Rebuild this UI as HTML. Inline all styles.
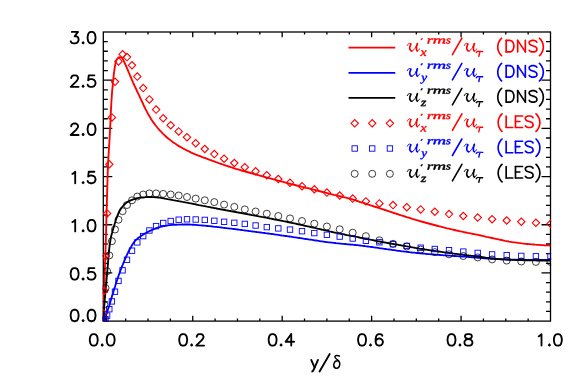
<!DOCTYPE html><html><head><meta charset="utf-8"><style>html,body{margin:0;padding:0;background:#fff}svg{display:block}</style></head><body><svg width="581" height="387" viewBox="0 0 581 387"><rect width="100%" height="100%" fill="#fff"/><g stroke="#000" stroke-width="1.3" fill="none" stroke-linecap="butt"><rect x="103.3" y="32.0" width="447.2" height="289.1"/><path d="M125.66,321.10v-2.5M125.66,32.00v2.5M148.02,321.10v-2.5M148.02,32.00v2.5M170.38,321.10v-2.5M170.38,32.00v2.5M192.74,321.10v-5.3M192.74,32.00v5.3M215.10,321.10v-2.5M215.10,32.00v2.5M237.46,321.10v-2.5M237.46,32.00v2.5M259.82,321.10v-2.5M259.82,32.00v2.5M282.18,321.10v-5.3M282.18,32.00v5.3M304.54,321.10v-2.5M304.54,32.00v2.5M326.90,321.10v-2.5M326.90,32.00v2.5M349.26,321.10v-2.5M349.26,32.00v2.5M371.62,321.10v-5.3M371.62,32.00v5.3M393.98,321.10v-2.5M393.98,32.00v2.5M416.34,321.10v-2.5M416.34,32.00v2.5M438.70,321.10v-2.5M438.70,32.00v2.5M461.06,321.10v-5.3M461.06,32.00v5.3M483.42,321.10v-2.5M483.42,32.00v2.5M505.78,321.10v-2.5M505.78,32.00v2.5M528.14,321.10v-2.5M528.14,32.00v2.5M103.30,311.46h4.5M550.50,311.46h-4.5M103.30,301.83h4.5M550.50,301.83h-4.5M103.30,292.19h4.5M550.50,292.19h-4.5M103.30,282.55h4.5M550.50,282.55h-4.5M103.30,272.92h9.0M550.50,272.92h-9.0M103.30,263.28h4.5M550.50,263.28h-4.5M103.30,253.64h4.5M550.50,253.64h-4.5M103.30,244.01h4.5M550.50,244.01h-4.5M103.30,234.37h4.5M550.50,234.37h-4.5M103.30,224.73h9.0M550.50,224.73h-9.0M103.30,215.10h4.5M550.50,215.10h-4.5M103.30,205.46h4.5M550.50,205.46h-4.5M103.30,195.82h4.5M550.50,195.82h-4.5M103.30,186.19h4.5M550.50,186.19h-4.5M103.30,176.55h9.0M550.50,176.55h-9.0M103.30,166.91h4.5M550.50,166.91h-4.5M103.30,157.28h4.5M550.50,157.28h-4.5M103.30,147.64h4.5M550.50,147.64h-4.5M103.30,138.00h4.5M550.50,138.00h-4.5M103.30,128.37h9.0M550.50,128.37h-9.0M103.30,118.73h4.5M550.50,118.73h-4.5M103.30,109.09h4.5M550.50,109.09h-4.5M103.30,99.46h4.5M550.50,99.46h-4.5M103.30,89.82h4.5M550.50,89.82h-4.5M103.30,80.18h9.0M550.50,80.18h-9.0M103.30,70.55h4.5M550.50,70.55h-4.5M103.30,60.91h4.5M550.50,60.91h-4.5M103.30,51.27h4.5M550.50,51.27h-4.5M103.30,41.64h4.5M550.50,41.64h-4.5"/></g><defs><clipPath id="c"><rect x="102.6" y="31.3" width="448.6" height="290.5"/></clipPath></defs><g clip-path="url(#c)"><polyline points="103.3,321.1 103.4,319.2 103.4,317.3 103.5,315.4 103.5,313.5 103.6,311.6 103.6,309.7 103.7,307.8 103.8,305.8 103.8,303.9 103.9,302.0 103.9,300.1 104.0,298.2 104.0,296.3 104.1,294.4 104.2,292.5 104.2,290.6 104.3,288.7 104.3,286.8 104.4,284.9 104.5,283.0 104.5,281.1 104.6,279.1 104.6,277.2 104.7,275.3 104.7,273.4 104.8,271.5 104.9,269.6 104.9,267.7 105.0,265.8 105.1,263.9 105.1,262.0 105.2,260.1 105.3,258.2 105.3,256.3 105.4,254.4 105.4,252.5 105.5,250.5 105.6,248.6 105.6,246.7 105.7,244.8 105.8,242.9 105.8,241.0 105.9,239.1 105.9,237.2 106.0,235.3 106.0,233.4 106.1,231.5 106.1,229.6 106.2,227.7 106.2,225.8 106.3,223.8 106.3,221.9 106.4,220.0 106.4,218.1 106.5,216.2 106.5,214.3 106.6,212.4 106.6,210.5 106.7,208.6 106.7,206.7 106.8,204.8 106.9,202.9 106.9,201.0 107.0,199.1 107.0,197.1 107.1,195.2 107.1,193.3 107.2,191.4 107.2,189.5 107.3,187.6 107.3,185.7 107.4,183.8 107.4,181.9 107.5,180.0 107.5,178.1 107.6,176.2 107.7,174.3 107.7,172.4 107.8,170.4 107.9,168.5 108.0,166.6 108.0,164.7 108.1,162.8 108.2,160.9 108.3,159.0 108.4,157.1 108.6,155.2 108.7,153.3 108.8,151.4 108.9,149.5 109.0,147.6 109.1,145.7 109.3,143.8 109.4,141.9 109.5,140.0 109.6,138.1 109.7,136.2 109.8,134.3 109.9,132.4 110.0,130.4 110.1,128.5 110.2,126.6 110.3,124.7 110.4,122.8 110.5,120.9 110.6,119.0 110.7,117.1 110.7,115.2 110.8,113.3 110.9,111.4 111.0,109.5 111.1,107.6 111.2,105.7 111.3,103.8 111.4,101.9 111.5,100.0 111.7,98.1 111.8,96.2 111.9,94.2 112.1,92.3 112.2,90.4 112.4,88.5 112.6,86.6 112.8,84.7 112.9,82.8 113.1,80.9 113.3,79.0 113.5,77.1 113.7,75.2 113.9,73.3 114.2,71.4 114.4,69.5 114.7,67.7 115.0,65.8 115.4,63.9 115.8,62.0 116.4,60.2 117.4,58.6 118.9,57.2 120.7,57.4 122.2,58.2 123.2,59.8 124.1,61.7 124.9,63.5 125.7,65.2 126.5,67.0 127.2,68.7 128.0,70.5 128.7,72.3 129.5,74.0 130.2,75.8 131.0,77.5 131.7,79.3 132.5,81.0 133.2,82.8 134.0,84.5 134.8,86.3 135.6,88.0 136.4,89.7 137.2,91.5 138.0,93.2 138.9,94.9 139.7,96.6 140.5,98.3 141.3,100.1 142.1,101.8 142.9,103.5 143.7,105.3 144.5,107.0 145.3,108.7 146.2,110.4 147.1,112.1 148.0,113.8 149.0,115.4 149.9,117.1 150.9,118.7 151.9,120.3 153.0,121.9 154.1,123.4 155.3,125.0 156.5,126.5 157.7,128.0 158.9,129.4 160.2,130.8 161.5,132.2 162.8,133.6 164.2,134.9 165.6,136.2 167.0,137.5 168.5,138.7 170.0,139.9 171.5,141.1 173.0,142.2 174.6,143.3 176.2,144.3 177.8,145.4 179.4,146.4 181.1,147.3 182.7,148.3 184.4,149.2 186.1,150.0 187.8,150.9 189.5,151.7 191.3,152.6 193.0,153.3 194.7,154.1 196.5,154.8 198.3,155.6 200.1,156.2 201.8,156.9 203.6,157.6 205.4,158.2 207.2,158.9 209.0,159.6 210.8,160.2 212.6,160.9 214.4,161.5 216.2,162.2 218.0,162.8 219.8,163.5 221.6,164.1 223.4,164.7 225.2,165.3 227.0,165.9 228.8,166.5 230.6,167.1 232.4,167.7 234.2,168.3 236.1,168.9 237.9,169.4 239.7,169.9 241.6,170.5 243.4,171.0 245.2,171.5 247.1,172.0 248.9,172.5 250.8,173.0 252.6,173.5 254.4,174.0 256.3,174.6 258.1,175.1 259.9,175.6 261.8,176.1 263.6,176.6 265.4,177.2 267.3,177.7 269.1,178.2 271.0,178.7 272.8,179.2 274.6,179.7 276.5,180.2 278.3,180.7 280.2,181.2 282.0,181.6 283.9,182.1 285.7,182.6 287.6,183.1 289.4,183.6 291.2,184.1 293.1,184.5 294.9,185.0 296.8,185.5 298.6,185.9 300.5,186.4 302.3,186.9 304.2,187.3 306.0,187.8 307.9,188.2 309.8,188.7 311.6,189.2 313.5,189.6 315.3,190.1 317.2,190.6 319.0,191.0 320.9,191.5 322.7,192.0 324.6,192.4 326.4,192.9 328.3,193.4 330.1,193.8 332.0,194.3 333.8,194.8 335.7,195.2 337.5,195.7 339.4,196.1 341.2,196.5 343.1,197.0 344.9,197.4 346.8,197.9 348.6,198.4 350.5,198.9 352.3,199.4 354.1,199.9 356.0,200.5 357.8,201.1 359.6,201.8 361.4,202.4 363.2,202.9 365.0,203.5 366.8,204.1 368.6,204.7 370.5,205.3 372.3,205.9 374.1,206.5 375.9,207.0 377.7,207.6 379.5,208.2 381.3,208.8 383.2,209.4 385.0,210.0 386.8,210.6 388.6,211.2 390.4,211.8 392.2,212.4 394.0,213.0 395.8,213.6 397.7,214.2 399.5,214.8 401.3,215.4 403.1,215.9 404.9,216.5 406.7,217.1 408.6,217.6 410.4,218.2 412.2,218.8 414.0,219.3 415.9,219.9 417.7,220.4 419.5,221.0 421.4,221.5 423.2,222.0 425.0,222.5 426.9,223.0 428.7,223.5 430.5,224.0 432.4,224.5 434.2,225.0 436.1,225.5 437.9,226.0 439.8,226.4 441.6,226.9 443.5,227.4 445.3,227.8 447.2,228.3 449.0,228.7 450.9,229.2 452.8,229.6 454.6,230.0 456.5,230.5 458.3,230.9 460.2,231.3 462.1,231.7 463.9,232.1 465.8,232.5 467.7,232.9 469.5,233.2 471.4,233.6 473.3,234.0 475.2,234.3 477.0,234.7 478.9,235.1 480.8,235.5 482.6,235.9 484.5,236.3 486.3,236.8 488.2,237.2 490.1,237.6 491.9,238.0 493.8,238.4 495.7,238.8 497.5,239.2 499.4,239.6 501.3,240.0 503.1,240.4 505.0,240.8 506.9,241.1 508.8,241.5 510.6,241.8 512.5,242.1 514.4,242.3 516.3,242.6 518.2,242.9 520.1,243.1 522.0,243.4 523.9,243.6 525.8,243.8 527.7,244.0 529.6,244.2 531.5,244.4 533.4,244.5 535.3,244.7 537.2,244.8 539.1,244.9 541.0,245.1 542.9,245.2 544.8,245.3 546.7,245.4 548.6,245.4 550.5,245.5" fill="none" stroke="#ff0000" stroke-width="1.85" stroke-linejoin="round"/><polyline points="103.3,321.1 103.9,320.0 104.4,318.8 104.9,317.6 105.4,316.4 105.8,315.3 106.3,314.1 106.8,312.9 107.2,311.7 107.6,310.5 108.0,309.3 108.4,308.1 108.8,306.9 109.2,305.7 109.6,304.4 109.9,303.2 110.3,302.0 110.7,300.8 111.0,299.5 111.4,298.3 111.8,297.1 112.1,295.9 112.5,294.7 112.9,293.5 113.3,292.2 113.6,291.0 114.0,289.8 114.4,288.6 114.8,287.4 115.2,286.2 115.5,284.9 115.9,283.7 116.3,282.5 116.7,281.3 117.1,280.1 117.5,278.9 117.9,277.7 118.3,276.5 118.7,275.3 119.1,274.1 119.6,272.9 120.0,271.7 120.4,270.5 120.9,269.3 121.4,268.1 121.8,266.9 122.3,265.7 122.8,264.6 123.3,263.4 123.8,262.2 124.3,261.0 124.8,259.9 125.3,258.7 125.8,257.5 126.3,256.3 126.8,255.2 127.3,254.0 127.9,252.9 128.4,251.7 129.0,250.6 129.6,249.5 130.2,248.4 130.9,247.2 131.5,246.1 132.2,245.0 132.9,243.9 133.6,242.8 134.3,241.8 135.1,240.9 136.0,239.9 136.9,239.1 137.9,238.3 138.9,237.5 140.0,236.8 141.0,236.1 142.1,235.3 143.1,234.7 144.2,234.0 145.3,233.3 146.4,232.7 147.5,232.1 148.7,231.5 149.8,230.9 151.0,230.4 152.1,229.9 153.3,229.3 154.5,228.9 155.7,228.4 156.9,228.0 158.1,227.6 159.3,227.2 160.5,226.9 161.8,226.5 163.0,226.2 164.3,226.0 165.5,225.8 166.8,225.6 168.0,225.4 169.3,225.2 170.5,225.1 171.8,224.9 173.1,224.8 174.4,224.7 175.6,224.7 176.9,224.7 178.2,224.6 179.4,224.6 180.7,224.6 182.0,224.5 183.3,224.5 184.5,224.5 185.8,224.5 187.1,224.5 188.4,224.5 189.6,224.5 190.9,224.6 192.2,224.7 193.4,224.7 194.7,224.8 196.0,224.9 197.3,225.1 198.5,225.2 199.8,225.3 201.1,225.4 202.3,225.5 203.6,225.6 204.9,225.7 206.1,225.9 207.4,226.0 208.7,226.1 209.9,226.2 211.2,226.4 212.5,226.5 213.7,226.7 215.0,226.8 216.3,226.9 217.5,227.1 218.8,227.2 220.1,227.4 221.3,227.5 222.6,227.7 223.9,227.8 225.1,228.0 226.4,228.1 227.7,228.3 228.9,228.4 230.2,228.6 231.4,228.7 232.7,228.9 234.0,229.0 235.2,229.2 236.5,229.4 237.8,229.5 239.0,229.7 240.3,229.8 241.6,230.0 242.8,230.2 244.1,230.3 245.3,230.5 246.6,230.6 247.9,230.8 249.1,231.0 250.4,231.1 251.7,231.3 252.9,231.5 254.2,231.6 255.4,231.8 256.7,232.0 258.0,232.1 259.2,232.3 260.5,232.5 261.8,232.7 263.0,232.8 264.3,233.0 265.5,233.2 266.8,233.3 268.1,233.5 269.3,233.7 270.6,233.9 271.8,234.0 273.1,234.2 274.4,234.4 275.6,234.6 276.9,234.7 278.2,234.9 279.4,235.1 280.7,235.3 281.9,235.5 283.2,235.6 284.5,235.8 285.7,236.0 287.0,236.2 288.2,236.4 289.5,236.5 290.8,236.7 292.0,236.9 293.3,237.1 294.5,237.3 295.8,237.4 297.1,237.6 298.3,237.8 299.6,238.0 300.8,238.2 302.1,238.4 303.4,238.6 304.6,238.8 305.9,239.0 307.1,239.2 308.4,239.4 309.7,239.6 310.9,239.7 312.2,239.9 313.4,240.1 314.7,240.3 316.0,240.5 317.2,240.7 318.5,240.9 319.7,241.1 321.0,241.3 322.3,241.4 323.5,241.6 324.8,241.8 326.0,242.0 327.3,242.1 328.6,242.3 329.8,242.4 331.1,242.6 332.4,242.7 333.6,242.9 334.9,243.0 336.1,243.2 337.4,243.3 338.7,243.4 339.9,243.6 341.2,243.7 342.5,243.8 343.7,243.9 345.0,244.0 346.3,244.1 347.6,244.3 348.8,244.4 350.1,244.5 351.4,244.6 352.6,244.7 353.9,244.9 355.2,245.0 356.4,245.1 357.7,245.2 359.0,245.4 360.2,245.5 361.5,245.7 362.8,245.8 364.0,246.0 365.3,246.2 366.5,246.3 367.8,246.5 369.1,246.7 370.3,246.8 371.6,247.0 372.9,247.2 374.1,247.4 375.4,247.6 376.6,247.7 377.9,247.9 379.2,248.1 380.4,248.3 381.7,248.4 382.9,248.6 384.2,248.8 385.5,249.0 386.7,249.2 388.0,249.3 389.2,249.5 390.5,249.7 391.8,249.9 393.0,250.1 394.3,250.2 395.5,250.4 396.8,250.6 398.1,250.8 399.3,250.9 400.6,251.1 401.9,251.3 403.1,251.4 404.4,251.6 405.6,251.7 406.9,251.9 408.2,252.0 409.4,252.2 410.7,252.3 412.0,252.5 413.2,252.6 414.5,252.7 415.8,252.9 417.0,253.0 418.3,253.1 419.6,253.3 420.8,253.4 422.1,253.5 423.4,253.6 424.6,253.7 425.9,253.8 427.2,254.0 428.4,254.1 429.7,254.2 431.0,254.3 432.3,254.4 433.5,254.5 434.8,254.6 436.1,254.7 437.3,254.8 438.6,254.9 439.9,255.0 441.1,255.1 442.4,255.2 443.7,255.3 445.0,255.4 446.2,255.4 447.5,255.5 448.8,255.6 450.0,255.7 451.3,255.8 452.6,255.9 453.8,256.0 455.1,256.0 456.4,256.1 457.7,256.2 458.9,256.3 460.2,256.4 461.5,256.5 462.7,256.6 464.0,256.6 465.3,256.7 466.6,256.8 467.8,256.9 469.1,257.1 470.4,257.2 471.6,257.3 472.9,257.4 474.2,257.5 475.4,257.6 476.7,257.7 478.0,257.8 479.2,257.9 480.5,258.0 481.8,258.1 483.0,258.2 484.3,258.3 485.6,258.4 486.9,258.5 488.1,258.6 489.4,258.7 490.7,258.8 491.9,258.8 493.2,258.9 494.5,259.0 495.8,259.0 497.0,259.1 498.3,259.1 499.6,259.2 500.8,259.2 502.1,259.3 503.4,259.3 504.7,259.4 505.9,259.4 507.2,259.5 508.5,259.5 509.8,259.5 511.0,259.6 512.3,259.6 513.6,259.6 514.8,259.7 516.1,259.7 517.4,259.7 518.7,259.8 519.9,259.8 521.2,259.8 522.5,259.9 523.8,259.9 525.0,259.9 526.3,259.9 527.6,260.0 528.9,260.0 530.1,260.0 531.4,260.0 532.7,260.0 533.9,260.0 535.2,260.0 536.5,260.0 537.8,260.0 539.0,260.0 540.3,260.0 541.6,260.0 542.9,260.0 544.1,260.0 545.4,260.0 546.7,260.0 548.0,260.0 549.2,260.0 550.5,260.0" fill="none" stroke="#0000ff" stroke-width="1.85" stroke-linejoin="round"/><polyline points="103.3,321.1 103.4,319.7 103.5,318.3 103.5,316.9 103.6,315.6 103.7,314.2 103.8,312.8 103.9,311.4 104.0,310.0 104.1,308.6 104.2,307.3 104.3,305.9 104.4,304.5 104.5,303.1 104.6,301.7 104.7,300.3 104.8,299.0 105.0,297.6 105.1,296.2 105.2,294.8 105.3,293.4 105.4,292.0 105.6,290.7 105.7,289.3 105.8,287.9 105.9,286.5 106.0,285.1 106.2,283.8 106.3,282.4 106.4,281.0 106.5,279.6 106.7,278.2 106.8,276.8 106.9,275.5 107.1,274.1 107.2,272.7 107.3,271.3 107.4,269.9 107.5,268.6 107.7,267.2 107.8,265.8 107.9,264.4 108.0,263.0 108.1,261.6 108.2,260.2 108.3,258.8 108.4,257.5 108.6,256.1 108.7,254.7 108.8,253.3 108.9,251.9 109.1,250.5 109.2,249.2 109.4,247.8 109.5,246.4 109.7,245.0 109.9,243.7 110.1,242.3 110.3,240.9 110.5,239.6 110.7,238.2 111.0,236.9 111.3,235.5 111.7,234.2 112.1,232.8 112.4,231.5 112.8,230.2 113.2,228.8 113.6,227.5 114.0,226.2 114.4,224.8 114.8,223.5 115.2,222.2 115.6,220.8 116.0,219.5 116.5,218.2 117.0,216.9 117.5,215.6 118.0,214.3 118.6,213.0 119.1,211.8 119.8,210.5 120.5,209.4 121.2,208.2 122.1,207.1 123.0,206.0 123.9,205.0 124.9,204.0 126.0,203.1 127.1,202.3 128.3,201.5 129.5,200.8 130.7,200.3 132.0,199.8 133.3,199.3 134.6,198.9 136.0,198.5 137.3,198.1 138.7,197.9 140.1,197.7 141.4,197.5 142.8,197.4 144.2,197.3 145.6,197.2 147.0,197.1 148.4,197.0 149.8,197.0 151.2,197.0 152.5,197.1 153.9,197.2 155.3,197.3 156.7,197.4 158.1,197.5 159.4,197.7 160.8,197.9 162.2,198.1 163.6,198.3 164.9,198.6 166.3,198.8 167.7,199.1 169.0,199.3 170.4,199.6 171.8,199.8 173.1,200.1 174.5,200.3 175.8,200.6 177.2,200.8 178.6,201.1 179.9,201.3 181.3,201.6 182.7,201.9 184.0,202.1 185.4,202.4 186.8,202.6 188.1,202.9 189.5,203.2 190.8,203.4 192.2,203.7 193.6,204.0 194.9,204.2 196.3,204.5 197.6,204.8 199.0,205.1 200.4,205.3 201.7,205.6 203.1,205.9 204.4,206.1 205.8,206.4 207.2,206.7 208.5,206.9 209.9,207.2 211.3,207.5 212.6,207.7 214.0,208.0 215.3,208.2 216.7,208.5 218.1,208.8 219.4,209.0 220.8,209.3 222.2,209.5 223.5,209.8 224.9,210.0 226.2,210.3 227.6,210.5 229.0,210.8 230.3,211.0 231.7,211.3 233.1,211.5 234.4,211.8 235.8,212.0 237.2,212.3 238.5,212.5 239.9,212.8 241.3,213.0 242.6,213.3 244.0,213.5 245.4,213.8 246.7,214.0 248.1,214.3 249.4,214.5 250.8,214.8 252.2,215.1 253.5,215.3 254.9,215.6 256.3,215.8 257.6,216.1 259.0,216.4 260.3,216.6 261.7,216.9 263.1,217.1 264.4,217.4 265.8,217.7 267.2,217.9 268.5,218.2 269.9,218.5 271.2,218.7 272.6,219.0 274.0,219.3 275.3,219.5 276.7,219.8 278.0,220.1 279.4,220.3 280.8,220.6 282.1,220.9 283.5,221.2 284.8,221.4 286.2,221.7 287.6,222.0 288.9,222.3 290.3,222.6 291.6,222.8 293.0,223.1 294.3,223.4 295.7,223.7 297.1,224.0 298.4,224.3 299.8,224.6 301.1,224.9 302.5,225.2 303.8,225.5 305.2,225.8 306.5,226.1 307.9,226.4 309.2,226.7 310.6,227.0 312.0,227.3 313.3,227.6 314.7,227.9 316.0,228.2 317.4,228.6 318.7,228.9 320.1,229.2 321.4,229.5 322.8,229.8 324.1,230.1 325.5,230.4 326.8,230.7 328.2,231.0 329.5,231.4 330.9,231.7 332.2,232.0 333.6,232.3 334.9,232.6 336.3,232.9 337.7,233.1 339.0,233.4 340.4,233.7 341.7,234.0 343.1,234.2 344.5,234.5 345.8,234.8 347.2,235.1 348.5,235.3 349.9,235.6 351.3,235.9 352.6,236.1 354.0,236.4 355.3,236.7 356.7,236.9 358.1,237.2 359.4,237.5 360.8,237.8 362.1,238.0 363.5,238.3 364.9,238.6 366.2,238.9 367.6,239.1 368.9,239.4 370.3,239.7 371.7,239.9 373.0,240.2 374.4,240.5 375.8,240.8 377.1,241.0 378.5,241.3 379.8,241.5 381.2,241.8 382.6,242.0 383.9,242.3 385.3,242.5 386.7,242.8 388.0,243.0 389.4,243.3 390.8,243.5 392.1,243.8 393.5,244.0 394.9,244.3 396.2,244.5 397.6,244.7 399.0,245.0 400.3,245.2 401.7,245.5 403.1,245.7 404.4,245.9 405.8,246.2 407.1,246.4 408.5,246.7 409.9,246.9 411.2,247.2 412.6,247.4 414.0,247.6 415.3,247.9 416.7,248.1 418.1,248.3 419.4,248.6 420.8,248.8 422.2,249.0 423.6,249.2 424.9,249.5 426.3,249.7 427.7,249.9 429.0,250.1 430.4,250.3 431.8,250.5 433.2,250.7 434.5,250.9 435.9,251.1 437.3,251.3 438.6,251.5 440.0,251.7 441.4,251.9 442.8,252.1 444.1,252.3 445.5,252.5 446.9,252.7 448.3,252.8 449.6,253.0 451.0,253.2 452.4,253.4 453.8,253.6 455.1,253.8 456.5,253.9 457.9,254.1 459.3,254.3 460.6,254.5 462.0,254.6 463.4,254.8 464.8,255.0 466.1,255.1 467.5,255.3 468.9,255.5 470.3,255.6 471.7,255.8 473.0,255.9 474.4,256.1 475.8,256.3 477.2,256.4 478.5,256.6 479.9,256.8 481.3,257.0 482.7,257.2 484.0,257.4 485.4,257.6 486.8,257.8 488.2,258.0 489.5,258.2 490.9,258.4 492.3,258.5 493.7,258.6 495.1,258.7 496.4,258.8 497.8,259.0 499.2,259.1 500.6,259.2 502.0,259.3 503.4,259.3 504.7,259.4 506.1,259.5 507.5,259.6 508.9,259.7 510.3,259.7 511.7,259.8 513.1,259.8 514.4,259.9 515.8,259.9 517.2,260.0 518.6,260.0 520.0,260.1 521.4,260.1 522.8,260.2 524.1,260.2 525.5,260.2 526.9,260.3 528.3,260.3 529.7,260.3 531.1,260.4 532.5,260.4 533.9,260.4 535.2,260.4 536.6,260.5 538.0,260.5 539.4,260.5 540.8,260.5 542.2,260.5 543.6,260.6 545.0,260.6 546.3,260.6 547.7,260.6 549.1,260.6 550.5,260.6" fill="none" stroke="#000000" stroke-width="1.85" stroke-linejoin="round"/><g fill="none" stroke="#ff0000" stroke-width="1.1"><path d="M99.6,321.1L103.3,317.4L107.0,321.1L103.3,324.8Z"/><path d="M99.8,313.4L103.5,309.7L107.2,313.4L103.5,317.1Z"/><path d="M100.6,290.7L104.3,287.0L108.0,290.7L104.3,294.4Z"/><path d="M101.8,256.2L105.5,252.5L109.2,256.2L105.5,259.9Z"/><path d="M103.4,213.4L107.1,209.7L110.8,213.4L107.1,217.1Z"/><path d="M105.6,164.3L109.3,160.6L113.0,164.3L109.3,168.0Z"/><path d="M108.2,117.4L111.9,113.7L115.6,117.4L111.9,121.1Z"/><path d="M111.3,81.8L115.0,78.1L118.7,81.8L115.0,85.5Z"/><path d="M114.8,61.4L118.5,57.7L122.2,61.4L118.5,65.1Z"/><path d="M118.9,54.3L122.6,50.6L126.3,54.3L122.6,58.0Z"/><path d="M123.3,57.1L127.0,53.4L130.7,57.1L127.0,60.8Z"/><path d="M128.3,65.3L132.0,61.6L135.7,65.3L132.0,69.0Z"/><path d="M133.6,76.6L137.3,72.9L141.0,76.6L137.3,80.3Z"/><path d="M139.5,88.1L143.2,84.4L146.9,88.1L143.2,91.8Z"/><path d="M145.7,99.4L149.4,95.7L153.1,99.4L149.4,103.1Z"/><path d="M152.4,109.6L156.1,105.9L159.8,109.6L156.1,113.3Z"/><path d="M159.5,118.3L163.2,114.6L166.9,118.3L163.2,122.0Z"/><path d="M167.0,125.2L170.7,121.5L174.4,125.2L170.7,128.9Z"/><path d="M175.0,131.4L178.7,127.7L182.4,131.4L178.7,135.1Z"/><path d="M183.3,137.2L187.0,133.5L190.7,137.2L187.0,140.9Z"/><path d="M192.0,143.2L195.7,139.5L199.4,143.2L195.7,146.9Z"/><path d="M201.1,149.0L204.8,145.3L208.5,149.0L204.8,152.7Z"/><path d="M210.6,154.1L214.3,150.4L218.0,154.1L214.3,157.8Z"/><path d="M220.4,158.7L224.1,155.0L227.8,158.7L224.1,162.4Z"/><path d="M230.6,163.0L234.3,159.3L238.0,163.0L234.3,166.7Z"/><path d="M241.1,167.2L244.8,163.5L248.5,167.2L244.8,170.9Z"/><path d="M251.9,171.3L255.6,167.6L259.3,171.3L255.6,175.0Z"/><path d="M263.1,175.2L266.8,171.5L270.5,175.2L266.8,178.9Z"/><path d="M274.6,179.0L278.3,175.3L282.0,179.0L278.3,182.7Z"/><path d="M286.3,182.7L290.0,179.0L293.7,182.7L290.0,186.4Z"/><path d="M298.3,186.2L302.0,182.5L305.7,186.2L302.0,189.9Z"/><path d="M310.6,189.3L314.3,185.6L318.0,189.3L314.3,193.0Z"/><path d="M323.2,192.6L326.9,188.9L330.6,192.6L326.9,196.3Z"/><path d="M336.0,195.5L339.7,191.8L343.4,195.5L339.7,199.2Z"/><path d="M349.0,198.6L352.7,194.9L356.4,198.6L352.7,202.3Z"/><path d="M362.2,201.3L365.9,197.7L369.6,201.3L365.9,205.0Z"/><path d="M375.7,203.4L379.4,199.7L383.1,203.4L379.4,207.1Z"/><path d="M389.3,205.1L393.0,201.4L396.7,205.1L393.0,208.8Z"/><path d="M403.1,207.2L406.8,203.5L410.5,207.2L406.8,210.9Z"/><path d="M417.0,209.4L420.7,205.7L424.4,209.4L420.7,213.1Z"/><path d="M431.1,211.7L434.8,208.0L438.5,211.7L434.8,215.4Z"/><path d="M445.3,214.1L449.0,210.4L452.7,214.1L449.0,217.8Z"/><path d="M459.6,216.0L463.3,212.3L467.0,216.0L463.3,219.7Z"/><path d="M474.0,217.6L477.7,213.9L481.4,217.6L477.7,221.2Z"/><path d="M488.4,219.2L492.1,215.5L495.8,219.2L492.1,222.9Z"/><path d="M503.0,220.5L506.7,216.8L510.4,220.5L506.7,224.2Z"/><path d="M517.6,221.7L521.3,218.0L525.0,221.7L521.3,225.4Z"/><path d="M532.2,222.8L535.9,219.1L539.6,222.8L535.9,226.5Z"/><path d="M546.8,223.8L550.5,220.1L554.2,223.8L550.5,227.5Z"/></g><g fill="none" stroke="#0000ff" stroke-width="0.9"><rect x="100.6" y="318.4" width="5.4" height="5.4"/><rect x="100.8" y="318.2" width="5.4" height="5.4"/><rect x="101.6" y="317.8" width="5.4" height="5.4"/><rect x="102.8" y="316.3" width="5.4" height="5.4"/><rect x="104.4" y="312.9" width="5.4" height="5.4"/><rect x="106.6" y="306.5" width="5.4" height="5.4"/><rect x="109.2" y="298.7" width="5.4" height="5.4"/><rect x="112.3" y="289.0" width="5.4" height="5.4"/><rect x="115.8" y="278.2" width="5.4" height="5.4"/><rect x="119.9" y="267.6" width="5.4" height="5.4"/><rect x="124.3" y="257.1" width="5.4" height="5.4"/><rect x="129.3" y="248.0" width="5.4" height="5.4"/><rect x="134.6" y="239.7" width="5.4" height="5.4"/><rect x="140.5" y="233.4" width="5.4" height="5.4"/><rect x="146.7" y="227.8" width="5.4" height="5.4"/><rect x="153.4" y="223.4" width="5.4" height="5.4"/><rect x="160.5" y="220.3" width="5.4" height="5.4"/><rect x="168.0" y="218.3" width="5.4" height="5.4"/><rect x="176.0" y="217.0" width="5.4" height="5.4"/><rect x="184.3" y="216.6" width="5.4" height="5.4"/><rect x="193.0" y="216.8" width="5.4" height="5.4"/><rect x="202.1" y="217.2" width="5.4" height="5.4"/><rect x="211.6" y="218.1" width="5.4" height="5.4"/><rect x="221.4" y="219.1" width="5.4" height="5.4"/><rect x="231.6" y="220.1" width="5.4" height="5.4"/><rect x="242.1" y="221.2" width="5.4" height="5.4"/><rect x="252.9" y="222.8" width="5.4" height="5.4"/><rect x="264.1" y="224.4" width="5.4" height="5.4"/><rect x="275.6" y="225.7" width="5.4" height="5.4"/><rect x="287.3" y="226.9" width="5.4" height="5.4"/><rect x="299.3" y="228.5" width="5.4" height="5.4"/><rect x="311.6" y="230.4" width="5.4" height="5.4"/><rect x="324.2" y="232.1" width="5.4" height="5.4"/><rect x="337.0" y="233.9" width="5.4" height="5.4"/><rect x="350.0" y="235.8" width="5.4" height="5.4"/><rect x="363.2" y="238.1" width="5.4" height="5.4"/><rect x="376.7" y="239.6" width="5.4" height="5.4"/><rect x="390.3" y="241.5" width="5.4" height="5.4"/><rect x="404.1" y="243.2" width="5.4" height="5.4"/><rect x="418.0" y="245.0" width="5.4" height="5.4"/><rect x="432.1" y="246.3" width="5.4" height="5.4"/><rect x="446.3" y="247.5" width="5.4" height="5.4"/><rect x="460.6" y="248.9" width="5.4" height="5.4"/><rect x="475.0" y="250.2" width="5.4" height="5.4"/><rect x="489.4" y="251.7" width="5.4" height="5.4"/><rect x="504.0" y="252.5" width="5.4" height="5.4"/><rect x="518.6" y="253.2" width="5.4" height="5.4"/><rect x="533.2" y="253.6" width="5.4" height="5.4"/><rect x="547.8" y="253.6" width="5.4" height="5.4"/></g><g fill="none" stroke="#000" stroke-width="0.75"><circle cx="103.3" cy="321.1" r="3.5"/><circle cx="103.5" cy="317.0" r="3.5"/><circle cx="104.3" cy="304.7" r="3.5"/><circle cx="105.5" cy="288.0" r="3.5"/><circle cx="107.1" cy="271.2" r="3.5"/><circle cx="109.3" cy="255.4" r="3.5"/><circle cx="111.9" cy="241.2" r="3.5"/><circle cx="115.0" cy="229.5" r="3.5"/><circle cx="118.5" cy="219.7" r="3.5"/><circle cx="122.6" cy="211.2" r="3.5"/><circle cx="127.0" cy="205.0" r="3.5"/><circle cx="132.0" cy="200.3" r="3.5"/><circle cx="137.3" cy="196.5" r="3.5"/><circle cx="143.2" cy="194.5" r="3.5"/><circle cx="149.4" cy="193.4" r="3.5"/><circle cx="156.1" cy="193.4" r="3.5"/><circle cx="163.2" cy="193.9" r="3.5"/><circle cx="170.7" cy="194.5" r="3.5"/><circle cx="178.7" cy="195.5" r="3.5"/><circle cx="187.0" cy="197.0" r="3.5"/><circle cx="195.7" cy="198.6" r="3.5"/><circle cx="204.8" cy="200.3" r="3.5"/><circle cx="214.3" cy="202.1" r="3.5"/><circle cx="224.1" cy="204.6" r="3.5"/><circle cx="234.3" cy="206.9" r="3.5"/><circle cx="244.8" cy="209.4" r="3.5"/><circle cx="255.6" cy="211.5" r="3.5"/><circle cx="266.8" cy="213.7" r="3.5"/><circle cx="278.3" cy="216.0" r="3.5"/><circle cx="290.0" cy="218.4" r="3.5"/><circle cx="302.0" cy="221.0" r="3.5"/><circle cx="314.3" cy="223.7" r="3.5"/><circle cx="326.9" cy="226.5" r="3.5"/><circle cx="339.7" cy="229.3" r="3.5"/><circle cx="352.7" cy="232.7" r="3.5"/><circle cx="365.9" cy="236.2" r="3.5"/><circle cx="379.4" cy="240.3" r="3.5"/><circle cx="393.0" cy="243.8" r="3.5"/><circle cx="406.8" cy="246.5" r="3.5"/><circle cx="420.7" cy="249.6" r="3.5"/><circle cx="434.8" cy="252.1" r="3.5"/><circle cx="449.0" cy="254.3" r="3.5"/><circle cx="463.3" cy="256.0" r="3.5"/><circle cx="477.7" cy="257.4" r="3.5"/><circle cx="492.1" cy="259.4" r="3.5"/><circle cx="506.7" cy="260.6" r="3.5"/><circle cx="521.3" cy="261.5" r="3.5"/><circle cx="535.9" cy="261.9" r="3.5"/><circle cx="550.5" cy="261.9" r="3.5"/></g></g><g fill="none" stroke="#000" stroke-width="1.85" stroke-linecap="round" stroke-linejoin="round"><polyline points="74.08,309.71 72.38,310.26 71.26,311.90 70.69,314.64 70.69,316.28 71.26,319.01 72.38,320.65 74.08,321.20 75.20,321.20 76.90,320.65 78.02,319.01 78.59,316.28 78.59,314.64 78.02,311.90 76.90,310.26 75.20,309.71 74.08,309.71"/><polyline points="83.10,320.11 82.54,320.65 83.10,321.20 83.66,320.65 83.10,320.11"/><polyline points="91.00,309.71 89.30,310.26 88.18,311.90 87.61,314.64 87.61,316.28 88.18,319.01 89.30,320.65 91.00,321.20 92.12,321.20 93.82,320.65 94.94,319.01 95.51,316.28 95.51,314.64 94.94,311.90 93.82,310.26 92.12,309.71 91.00,309.71"/></g><g fill="none" stroke="#000" stroke-width="1.85" stroke-linecap="round" stroke-linejoin="round"><polyline points="74.08,268.08 72.38,268.63 71.26,270.27 70.69,273.00 70.69,274.64 71.26,277.38 72.38,279.02 74.08,279.57 75.20,279.57 76.90,279.02 78.02,277.38 78.59,274.64 78.59,273.00 78.02,270.27 76.90,268.63 75.20,268.08 74.08,268.08"/><polyline points="83.10,278.47 82.54,279.02 83.10,279.57 83.66,279.02 83.10,278.47"/><polyline points="94.38,268.08 88.74,268.08 88.18,273.00 88.74,272.46 90.43,271.91 92.12,271.91 93.82,272.46 94.94,273.55 95.51,275.19 95.51,276.28 94.94,277.93 93.82,279.02 92.12,279.57 90.43,279.57 88.74,279.02 88.18,278.47 87.61,277.38"/></g><g fill="none" stroke="#000" stroke-width="1.85" stroke-linecap="round" stroke-linejoin="round"><polyline points="72.38,222.08 73.51,221.54 75.20,219.90 75.20,231.38"/><polyline points="83.10,230.29 82.54,230.84 83.10,231.38 83.66,230.84 83.10,230.29"/><polyline points="91.00,219.90 89.30,220.44 88.18,222.08 87.61,224.82 87.61,226.46 88.18,229.20 89.30,230.84 91.00,231.38 92.12,231.38 93.82,230.84 94.94,229.20 95.51,226.46 95.51,224.82 94.94,222.08 93.82,220.44 92.12,219.90 91.00,219.90"/></g><g fill="none" stroke="#000" stroke-width="1.85" stroke-linecap="round" stroke-linejoin="round"><polyline points="72.38,173.90 73.51,173.35 75.20,171.71 75.20,183.20"/><polyline points="83.10,182.11 82.54,182.65 83.10,183.20 83.66,182.65 83.10,182.11"/><polyline points="94.38,171.71 88.74,171.71 88.18,176.64 88.74,176.09 90.43,175.54 92.12,175.54 93.82,176.09 94.94,177.18 95.51,178.82 95.51,179.92 94.94,181.56 93.82,182.65 92.12,183.20 90.43,183.20 88.74,182.65 88.18,182.11 87.61,181.01"/></g><g fill="none" stroke="#000" stroke-width="1.85" stroke-linecap="round" stroke-linejoin="round"><polyline points="71.26,126.26 71.26,125.72 71.82,124.62 72.38,124.08 73.51,123.53 75.77,123.53 76.90,124.08 77.46,124.62 78.02,125.72 78.02,126.81 77.46,127.91 76.33,129.55 70.69,135.02 78.59,135.02"/><polyline points="83.10,133.92 82.54,134.47 83.10,135.02 83.66,134.47 83.10,133.92"/><polyline points="91.00,123.53 89.30,124.08 88.18,125.72 87.61,128.45 87.61,130.09 88.18,132.83 89.30,134.47 91.00,135.02 92.12,135.02 93.82,134.47 94.94,132.83 95.51,130.09 95.51,128.45 94.94,125.72 93.82,124.08 92.12,123.53 91.00,123.53"/></g><g fill="none" stroke="#000" stroke-width="1.85" stroke-linecap="round" stroke-linejoin="round"><polyline points="71.26,78.08 71.26,77.53 71.82,76.44 72.38,75.89 73.51,75.35 75.77,75.35 76.90,75.89 77.46,76.44 78.02,77.53 78.02,78.63 77.46,79.72 76.33,81.36 70.69,86.83 78.59,86.83"/><polyline points="83.10,85.74 82.54,86.29 83.10,86.83 83.66,86.29 83.10,85.74"/><polyline points="94.38,75.35 88.74,75.35 88.18,80.27 88.74,79.72 90.43,79.18 92.12,79.18 93.82,79.72 94.94,80.82 95.51,82.46 95.51,83.55 94.94,85.19 93.82,86.29 92.12,86.83 90.43,86.83 88.74,86.29 88.18,85.74 87.61,84.65"/></g><g fill="none" stroke="#000" stroke-width="1.85" stroke-linecap="round" stroke-linejoin="round"><polyline points="71.82,31.91 78.02,31.91 74.64,36.29 76.33,36.29 77.46,36.84 78.02,37.38 78.59,39.02 78.59,40.12 78.02,41.76 76.90,42.85 75.20,43.40 73.51,43.40 71.82,42.85 71.26,42.31 70.69,41.21"/><polyline points="83.10,42.31 82.54,42.85 83.10,43.40 83.66,42.85 83.10,42.31"/><polyline points="91.00,31.91 89.30,32.46 88.18,34.10 87.61,36.84 87.61,38.48 88.18,41.21 89.30,42.85 91.00,43.40 92.12,43.40 93.82,42.85 94.94,41.21 95.51,38.48 95.51,36.84 94.94,34.10 93.82,32.46 92.12,31.91 91.00,31.91"/></g><g fill="none" stroke="#000" stroke-width="1.85" stroke-linecap="round" stroke-linejoin="round"><polyline points="93.18,334.11 91.48,334.66 90.36,336.30 89.79,339.04 89.79,340.68 90.36,343.41 91.48,345.05 93.18,345.60 94.30,345.60 96.00,345.05 97.12,343.41 97.69,340.68 97.69,339.04 97.12,336.30 96.00,334.66 94.30,334.11 93.18,334.11"/><polyline points="102.20,344.51 101.64,345.05 102.20,345.60 102.76,345.05 102.20,344.51"/><polyline points="110.10,334.11 108.40,334.66 107.28,336.30 106.71,339.04 106.71,340.68 107.28,343.41 108.40,345.05 110.10,345.60 111.22,345.60 112.92,345.05 114.04,343.41 114.61,340.68 114.61,339.04 114.04,336.30 112.92,334.66 111.22,334.11 110.10,334.11"/></g><g fill="none" stroke="#000" stroke-width="1.85" stroke-linecap="round" stroke-linejoin="round"><polyline points="182.62,334.11 180.92,334.66 179.80,336.30 179.23,339.04 179.23,340.68 179.80,343.41 180.92,345.05 182.62,345.60 183.74,345.60 185.44,345.05 186.56,343.41 187.13,340.68 187.13,339.04 186.56,336.30 185.44,334.66 183.74,334.11 182.62,334.11"/><polyline points="191.64,344.51 191.08,345.05 191.64,345.60 192.20,345.05 191.64,344.51"/><polyline points="196.72,336.85 196.72,336.30 197.28,335.21 197.84,334.66 198.97,334.11 201.23,334.11 202.36,334.66 202.92,335.21 203.48,336.30 203.48,337.40 202.92,338.49 201.79,340.13 196.15,345.60 204.05,345.60"/></g><g fill="none" stroke="#000" stroke-width="1.85" stroke-linecap="round" stroke-linejoin="round"><polyline points="272.06,334.11 270.36,334.66 269.24,336.30 268.67,339.04 268.67,340.68 269.24,343.41 270.36,345.05 272.06,345.60 273.18,345.60 274.88,345.05 276.00,343.41 276.57,340.68 276.57,339.04 276.00,336.30 274.88,334.66 273.18,334.11 272.06,334.11"/><polyline points="281.08,344.51 280.52,345.05 281.08,345.60 281.64,345.05 281.08,344.51"/><polyline points="291.23,334.11 285.59,341.77 294.05,341.77"/><polyline points="291.23,334.11 291.23,345.60"/></g><g fill="none" stroke="#000" stroke-width="1.85" stroke-linecap="round" stroke-linejoin="round"><polyline points="361.50,334.11 359.80,334.66 358.68,336.30 358.11,339.04 358.11,340.68 358.68,343.41 359.80,345.05 361.50,345.60 362.62,345.60 364.32,345.05 365.44,343.41 366.01,340.68 366.01,339.04 365.44,336.30 364.32,334.66 362.62,334.11 361.50,334.11"/><polyline points="370.52,344.51 369.96,345.05 370.52,345.60 371.08,345.05 370.52,344.51"/><polyline points="382.36,335.75 381.80,334.66 380.11,334.11 378.98,334.11 377.29,334.66 376.16,336.30 375.60,339.04 375.60,341.77 376.16,343.96 377.29,345.05 378.98,345.60 379.54,345.60 381.24,345.05 382.36,343.96 382.93,342.32 382.93,341.77 382.36,340.13 381.24,339.04 379.54,338.49 378.98,338.49 377.29,339.04 376.16,340.13 375.60,341.77"/></g><g fill="none" stroke="#000" stroke-width="1.85" stroke-linecap="round" stroke-linejoin="round"><polyline points="450.94,334.11 449.24,334.66 448.12,336.30 447.55,339.04 447.55,340.68 448.12,343.41 449.24,345.05 450.94,345.60 452.06,345.60 453.76,345.05 454.88,343.41 455.45,340.68 455.45,339.04 454.88,336.30 453.76,334.66 452.06,334.11 450.94,334.11"/><polyline points="459.96,344.51 459.40,345.05 459.96,345.60 460.52,345.05 459.96,344.51"/><polyline points="467.29,334.11 465.60,334.66 465.04,335.75 465.04,336.85 465.60,337.94 466.73,338.49 468.98,339.04 470.68,339.58 471.80,340.68 472.37,341.77 472.37,343.41 471.80,344.51 471.24,345.05 469.55,345.60 467.29,345.60 465.60,345.05 465.04,344.51 464.47,343.41 464.47,341.77 465.04,340.68 466.16,339.58 467.86,339.04 470.11,338.49 471.24,337.94 471.80,336.85 471.80,335.75 471.24,334.66 469.55,334.11 467.29,334.11"/></g><g fill="none" stroke="#000" stroke-width="1.85" stroke-linecap="round" stroke-linejoin="round"><polyline points="538.68,336.30 539.81,335.75 541.50,334.11 541.50,345.60"/><polyline points="549.40,344.51 548.84,345.05 549.40,345.60 549.96,345.05 549.40,344.51"/><polyline points="557.30,334.11 555.60,334.66 554.48,336.30 553.91,339.04 553.91,340.68 554.48,343.41 555.60,345.05 557.30,345.60 558.42,345.60 560.12,345.05 561.24,343.41 561.81,340.68 561.81,339.04 561.24,336.30 560.12,334.66 558.42,334.11 557.30,334.11"/></g><g fill="none" stroke="#000" stroke-width="1.85" stroke-linecap="round" stroke-linejoin="round"><polyline points="311.23,359.94 314.61,367.60"/><polyline points="318.00,359.94 314.61,367.60 313.48,370.06 312.92,371.05 312.24,371.43"/></g><g fill="none" stroke="#000" stroke-width="1.85" stroke-linecap="round" stroke-linejoin="round"><polyline points="329.70,353.93 319.55,371.43"/></g><path d="M339.43,356.00 c-1.8,-0.6 -4.2,-0.8 -4.6,0.7 c-0.3,1.3 1.6,2.2 3.0,3.4 c1.6,1.4 2.4,3.0 1.8,5.2 c-0.6,2.2 -2.4,3.3 -3.9,2.9 c-1.6,-0.4 -2.3,-2.0 -1.9,-4.0 c0.4,-2.0 1.9,-3.6 3.6,-3.5" fill="none" stroke="#000" stroke-width="1.4" stroke-linecap="round" stroke-linejoin="round"/><line x1="348.5" y1="47.7" x2="395.3" y2="47.7" stroke="#ff0000" stroke-width="1.7"/><g transform="translate(407.00,51.30)" fill="none" stroke="#ff0000" stroke-linecap="round" stroke-linejoin="round"><path d="M0.3,-5.9 C0.8,-7.0 1.6,-8.0 2.5,-8.0 C3.2,-8.0 3.7,-7.8 3.9,-7.4 M4.85,-0.3 C6.2,-0.3 7.8,-2.4 8.6,-4.2 C9.3,-5.6 9.9,-6.8 10.4,-7.8 M10.4,-0.3 C11.2,-0.3 12.0,-1.4 12.5,-2.4" stroke-width="1.0"/><path d="M3.9,-7.4 C3.4,-6.2 2.7,-4.6 2.7,-3.4 C2.7,-2.2 3.3,-0.3 4.85,-0.3 M10.4,-7.8 C10.0,-6.4 9.4,-4.6 9.4,-3.4 C9.4,-2.0 9.6,-0.4 10.4,-0.3" stroke-width="1.65"/></g><path d="M422.1,38.6 l-0.9,1.0" stroke="#ff0000" stroke-width="1.3" stroke-linecap="round" fill="none"/><path transform="translate(420.47,55.90) scale(0.00675,-0.00562)" d="M142 84Q142 56 184 45L176 0H-9Q-25 13 -25 43Q-25 71 6 112Q38 153 112 221L385 475L213 870L106 895L114 940H362L507 582L631 700Q695 761 721 796Q747 831 747 856Q747 866 738 874Q729 881 688 895L696 940H873Q894 924 894 897Q894 838 756 707L542 506L734 66L850 45L842 0H586L419 400L248 236Q193 183 168 148Q142 114 142 84Z" fill="#ff0000" stroke="#ff0000" stroke-width="89"/><path transform="translate(426.84,43.40) scale(0.00792,-0.00508)" d="M724 965Q774 965 803 957L759 711H716L678 838Q598 838 512 777Q427 716 356 616L249 0H83L236 870L118 895L126 940H403L372 728Q447 841 540 903Q632 965 724 965Z" fill="#ff0000" stroke="#ff0000" stroke-width="89"/><path transform="translate(432.73,43.40) scale(0.00902,-0.00508)" d="M873 746Q941 843 1027 904Q1113 965 1192 965Q1276 965 1324 912Q1373 858 1373 757Q1373 735 1368 700Q1364 664 1262 70L1393 45L1384 0H1083L1186 582Q1209 703 1209 748Q1209 793 1188 820Q1167 848 1122 848Q1078 848 1017 806Q956 764 906 698Q857 633 847 576L748 0H582L684 582Q709 713 709 748Q709 793 687 820Q665 848 618 848Q574 848 510 804Q446 759 397 696Q348 632 339 576L240 0H74L227 870L109 895L117 940H395L367 746Q437 845 524 905Q611 965 688 965Q776 965 824 910Q873 854 873 746Z" fill="#ff0000" stroke="#ff0000" stroke-width="89"/><path transform="translate(445.95,43.40) scale(0.00620,-0.00508)" d="M692 276Q692 125 596 52Q500 -20 305 -20Q167 -20 25 42L66 268H111L128 131Q154 103 202 81Q249 59 309 59Q528 59 528 238Q528 297 482 343Q435 389 330 440Q229 489 180 548Q131 608 131 688Q131 820 220 892Q309 965 467 965Q580 965 735 930L698 721H651L637 829Q574 885 471 885Q389 885 340 848Q291 810 291 731Q291 677 333 636Q375 595 492 535Q596 481 644 419Q692 357 692 276Z" fill="#ff0000" stroke="#ff0000" stroke-width="89"/><line x1="452.4" y1="54.7" x2="461.9" y2="38.2" stroke="#ff0000" stroke-width="1.6" stroke-linecap="round"/><g transform="translate(464.00,51.30)" fill="none" stroke="#ff0000" stroke-linecap="round" stroke-linejoin="round"><path d="M0.3,-5.9 C0.8,-7.0 1.6,-8.0 2.5,-8.0 C3.2,-8.0 3.7,-7.8 3.9,-7.4 M4.85,-0.3 C6.2,-0.3 7.8,-2.4 8.6,-4.2 C9.3,-5.6 9.9,-6.8 10.4,-7.8 M10.4,-0.3 C11.2,-0.3 12.0,-1.4 12.5,-2.4" stroke-width="1.0"/><path d="M3.9,-7.4 C3.4,-6.2 2.7,-4.6 2.7,-3.4 C2.7,-2.2 3.3,-0.3 4.85,-0.3 M10.4,-7.8 C10.0,-6.4 9.4,-4.6 9.4,-3.4 C9.4,-2.0 9.6,-0.4 10.4,-0.3" stroke-width="1.65"/></g><path d="M476.3,52.50 c0.5,-0.9 1.2,-1.3 2.0,-1.2 l4.4,0.3 M479.9,51.50 l-1.1,4.8" fill="none" stroke="#ff0000" stroke-width="1.4" stroke-linecap="round" stroke-linejoin="round"/><g fill="none" stroke="#ff0000" stroke-width="1.65" stroke-linecap="round" stroke-linejoin="round"><polyline points="501.63,38.23 500.53,39.32 499.44,40.96 498.34,43.15 497.79,45.88 497.79,48.07 498.34,50.81 499.44,52.99 500.53,54.64 501.63,55.73"/></g><g fill="none" stroke="#ff0000" stroke-width="1.65" stroke-linecap="round" stroke-linejoin="round"><polyline points="506.16,40.41 506.16,51.90"/><polyline points="506.16,40.41 510.00,40.41 511.64,40.96 512.74,42.05 513.29,43.15 513.84,44.79 513.84,47.52 513.29,49.17 512.74,50.26 511.64,51.35 510.00,51.90 506.16,51.90"/><polyline points="517.67,40.41 517.67,51.90"/><polyline points="517.67,40.41 525.34,51.90"/><polyline points="525.34,40.41 525.34,51.90"/><polyline points="536.85,42.05 535.76,40.96 534.11,40.41 531.92,40.41 530.28,40.96 529.18,42.05 529.18,43.15 529.73,44.24 530.28,44.79 531.37,45.34 534.66,46.43 535.76,46.98 536.30,47.52 536.85,48.62 536.85,50.26 535.76,51.35 534.11,51.90 531.92,51.90 530.28,51.35 529.18,50.26"/></g><g fill="none" stroke="#ff0000" stroke-width="1.65" stroke-linecap="round" stroke-linejoin="round"><polyline points="539.44,38.23 540.54,39.32 541.63,40.96 542.73,43.15 543.28,45.88 543.28,48.07 542.73,50.81 541.63,52.99 540.54,54.64 539.44,55.73"/></g><line x1="348.5" y1="72.9" x2="395.3" y2="72.9" stroke="#0000ff" stroke-width="1.7"/><g transform="translate(407.00,76.50)" fill="none" stroke="#0000ff" stroke-linecap="round" stroke-linejoin="round"><path d="M0.3,-5.9 C0.8,-7.0 1.6,-8.0 2.5,-8.0 C3.2,-8.0 3.7,-7.8 3.9,-7.4 M4.85,-0.3 C6.2,-0.3 7.8,-2.4 8.6,-4.2 C9.3,-5.6 9.9,-6.8 10.4,-7.8 M10.4,-0.3 C11.2,-0.3 12.0,-1.4 12.5,-2.4" stroke-width="1.0"/><path d="M3.9,-7.4 C3.4,-6.2 2.7,-4.6 2.7,-3.4 C2.7,-2.2 3.3,-0.3 4.85,-0.3 M10.4,-7.8 C10.0,-6.4 9.4,-4.6 9.4,-3.4 C9.4,-2.0 9.6,-0.4 10.4,-0.3" stroke-width="1.65"/></g><path d="M422.1,63.8 l-0.9,1.0" stroke="#0000ff" stroke-width="1.3" stroke-linecap="round" fill="none"/><path transform="translate(421.38,81.10) scale(0.00629,-0.00562)" d="M52 940H308L453 208L688 614Q752 726 752 807Q752 844 731 866Q710 888 686 895L694 940H884Q910 917 910 877Q910 798 827 657L431 -10Q317 -204 250 -285Q184 -366 119 -404Q54 -442 -22 -442Q-103 -442 -171 -424L-134 -221H-89L-73 -317Q-48 -340 9 -340Q144 -340 294 -70L339 12L156 870L44 895Z" fill="#0000ff" stroke="#0000ff" stroke-width="89"/><path transform="translate(426.84,68.60) scale(0.00792,-0.00508)" d="M724 965Q774 965 803 957L759 711H716L678 838Q598 838 512 777Q427 716 356 616L249 0H83L236 870L118 895L126 940H403L372 728Q447 841 540 903Q632 965 724 965Z" fill="#0000ff" stroke="#0000ff" stroke-width="89"/><path transform="translate(432.73,68.60) scale(0.00902,-0.00508)" d="M873 746Q941 843 1027 904Q1113 965 1192 965Q1276 965 1324 912Q1373 858 1373 757Q1373 735 1368 700Q1364 664 1262 70L1393 45L1384 0H1083L1186 582Q1209 703 1209 748Q1209 793 1188 820Q1167 848 1122 848Q1078 848 1017 806Q956 764 906 698Q857 633 847 576L748 0H582L684 582Q709 713 709 748Q709 793 687 820Q665 848 618 848Q574 848 510 804Q446 759 397 696Q348 632 339 576L240 0H74L227 870L109 895L117 940H395L367 746Q437 845 524 905Q611 965 688 965Q776 965 824 910Q873 854 873 746Z" fill="#0000ff" stroke="#0000ff" stroke-width="89"/><path transform="translate(445.95,68.60) scale(0.00620,-0.00508)" d="M692 276Q692 125 596 52Q500 -20 305 -20Q167 -20 25 42L66 268H111L128 131Q154 103 202 81Q249 59 309 59Q528 59 528 238Q528 297 482 343Q435 389 330 440Q229 489 180 548Q131 608 131 688Q131 820 220 892Q309 965 467 965Q580 965 735 930L698 721H651L637 829Q574 885 471 885Q389 885 340 848Q291 810 291 731Q291 677 333 636Q375 595 492 535Q596 481 644 419Q692 357 692 276Z" fill="#0000ff" stroke="#0000ff" stroke-width="89"/><line x1="452.4" y1="79.9" x2="461.9" y2="63.4" stroke="#0000ff" stroke-width="1.6" stroke-linecap="round"/><g transform="translate(464.00,76.50)" fill="none" stroke="#0000ff" stroke-linecap="round" stroke-linejoin="round"><path d="M0.3,-5.9 C0.8,-7.0 1.6,-8.0 2.5,-8.0 C3.2,-8.0 3.7,-7.8 3.9,-7.4 M4.85,-0.3 C6.2,-0.3 7.8,-2.4 8.6,-4.2 C9.3,-5.6 9.9,-6.8 10.4,-7.8 M10.4,-0.3 C11.2,-0.3 12.0,-1.4 12.5,-2.4" stroke-width="1.0"/><path d="M3.9,-7.4 C3.4,-6.2 2.7,-4.6 2.7,-3.4 C2.7,-2.2 3.3,-0.3 4.85,-0.3 M10.4,-7.8 C10.0,-6.4 9.4,-4.6 9.4,-3.4 C9.4,-2.0 9.6,-0.4 10.4,-0.3" stroke-width="1.65"/></g><path d="M476.3,77.70 c0.5,-0.9 1.2,-1.3 2.0,-1.2 l4.4,0.3 M479.9,76.70 l-1.1,4.8" fill="none" stroke="#0000ff" stroke-width="1.4" stroke-linecap="round" stroke-linejoin="round"/><g fill="none" stroke="#0000ff" stroke-width="1.65" stroke-linecap="round" stroke-linejoin="round"><polyline points="501.63,63.42 500.53,64.52 499.44,66.16 498.34,68.35 497.79,71.08 497.79,73.27 498.34,76.01 499.44,78.19 500.53,79.83 501.63,80.93"/></g><g fill="none" stroke="#0000ff" stroke-width="1.65" stroke-linecap="round" stroke-linejoin="round"><polyline points="506.16,65.61 506.16,77.10"/><polyline points="506.16,65.61 510.00,65.61 511.64,66.16 512.74,67.25 513.29,68.35 513.84,69.99 513.84,72.72 513.29,74.36 512.74,75.46 511.64,76.55 510.00,77.10 506.16,77.10"/><polyline points="517.67,65.61 517.67,77.10"/><polyline points="517.67,65.61 525.34,77.10"/><polyline points="525.34,65.61 525.34,77.10"/><polyline points="536.85,67.25 535.76,66.16 534.11,65.61 531.92,65.61 530.28,66.16 529.18,67.25 529.18,68.35 529.73,69.44 530.28,69.99 531.37,70.54 534.66,71.63 535.76,72.18 536.30,72.72 536.85,73.82 536.85,75.46 535.76,76.55 534.11,77.10 531.92,77.10 530.28,76.55 529.18,75.46"/></g><g fill="none" stroke="#0000ff" stroke-width="1.65" stroke-linecap="round" stroke-linejoin="round"><polyline points="539.44,63.42 540.54,64.52 541.63,66.16 542.73,68.35 543.28,71.08 543.28,73.27 542.73,76.01 541.63,78.19 540.54,79.83 539.44,80.93"/></g><line x1="348.5" y1="97.9" x2="395.3" y2="97.9" stroke="#000000" stroke-width="1.7"/><g transform="translate(407.00,101.50)" fill="none" stroke="#000000" stroke-linecap="round" stroke-linejoin="round"><path d="M0.3,-5.9 C0.8,-7.0 1.6,-8.0 2.5,-8.0 C3.2,-8.0 3.7,-7.8 3.9,-7.4 M4.85,-0.3 C6.2,-0.3 7.8,-2.4 8.6,-4.2 C9.3,-5.6 9.9,-6.8 10.4,-7.8 M10.4,-0.3 C11.2,-0.3 12.0,-1.4 12.5,-2.4" stroke-width="1.0"/><path d="M3.9,-7.4 C3.4,-6.2 2.7,-4.6 2.7,-3.4 C2.7,-2.2 3.3,-0.3 4.85,-0.3 M10.4,-7.8 C10.0,-6.4 9.4,-4.6 9.4,-3.4 C9.4,-2.0 9.6,-0.4 10.4,-0.3" stroke-width="1.65"/></g><path d="M422.1,88.8 l-0.9,1.0" stroke="#000000" stroke-width="1.3" stroke-linecap="round" fill="none"/><path transform="translate(420.86,106.10) scale(0.00681,-0.00562)" d="M-23 0 -14 45 550 860H401Q345 860 292 850Q239 841 215 825L160 690H113L158 940H770L762 891L200 80H397Q453 80 506 92Q559 105 594 127L670 274H717L645 0Z" fill="#000000" stroke="#000000" stroke-width="89"/><path transform="translate(426.84,93.60) scale(0.00792,-0.00508)" d="M724 965Q774 965 803 957L759 711H716L678 838Q598 838 512 777Q427 716 356 616L249 0H83L236 870L118 895L126 940H403L372 728Q447 841 540 903Q632 965 724 965Z" fill="#000000" stroke="#000000" stroke-width="89"/><path transform="translate(432.73,93.60) scale(0.00902,-0.00508)" d="M873 746Q941 843 1027 904Q1113 965 1192 965Q1276 965 1324 912Q1373 858 1373 757Q1373 735 1368 700Q1364 664 1262 70L1393 45L1384 0H1083L1186 582Q1209 703 1209 748Q1209 793 1188 820Q1167 848 1122 848Q1078 848 1017 806Q956 764 906 698Q857 633 847 576L748 0H582L684 582Q709 713 709 748Q709 793 687 820Q665 848 618 848Q574 848 510 804Q446 759 397 696Q348 632 339 576L240 0H74L227 870L109 895L117 940H395L367 746Q437 845 524 905Q611 965 688 965Q776 965 824 910Q873 854 873 746Z" fill="#000000" stroke="#000000" stroke-width="89"/><path transform="translate(445.95,93.60) scale(0.00620,-0.00508)" d="M692 276Q692 125 596 52Q500 -20 305 -20Q167 -20 25 42L66 268H111L128 131Q154 103 202 81Q249 59 309 59Q528 59 528 238Q528 297 482 343Q435 389 330 440Q229 489 180 548Q131 608 131 688Q131 820 220 892Q309 965 467 965Q580 965 735 930L698 721H651L637 829Q574 885 471 885Q389 885 340 848Q291 810 291 731Q291 677 333 636Q375 595 492 535Q596 481 644 419Q692 357 692 276Z" fill="#000000" stroke="#000000" stroke-width="89"/><line x1="452.4" y1="104.9" x2="461.9" y2="88.4" stroke="#000000" stroke-width="1.6" stroke-linecap="round"/><g transform="translate(464.00,101.50)" fill="none" stroke="#000000" stroke-linecap="round" stroke-linejoin="round"><path d="M0.3,-5.9 C0.8,-7.0 1.6,-8.0 2.5,-8.0 C3.2,-8.0 3.7,-7.8 3.9,-7.4 M4.85,-0.3 C6.2,-0.3 7.8,-2.4 8.6,-4.2 C9.3,-5.6 9.9,-6.8 10.4,-7.8 M10.4,-0.3 C11.2,-0.3 12.0,-1.4 12.5,-2.4" stroke-width="1.0"/><path d="M3.9,-7.4 C3.4,-6.2 2.7,-4.6 2.7,-3.4 C2.7,-2.2 3.3,-0.3 4.85,-0.3 M10.4,-7.8 C10.0,-6.4 9.4,-4.6 9.4,-3.4 C9.4,-2.0 9.6,-0.4 10.4,-0.3" stroke-width="1.65"/></g><path d="M476.3,102.70 c0.5,-0.9 1.2,-1.3 2.0,-1.2 l4.4,0.3 M479.9,101.70 l-1.1,4.8" fill="none" stroke="#000000" stroke-width="1.4" stroke-linecap="round" stroke-linejoin="round"/><g fill="none" stroke="#000000" stroke-width="1.65" stroke-linecap="round" stroke-linejoin="round"><polyline points="501.63,88.42 500.53,89.52 499.44,91.16 498.34,93.35 497.79,96.08 497.79,98.27 498.34,101.01 499.44,103.19 500.53,104.83 501.63,105.93"/></g><g fill="none" stroke="#000000" stroke-width="1.65" stroke-linecap="round" stroke-linejoin="round"><polyline points="506.16,90.61 506.16,102.10"/><polyline points="506.16,90.61 510.00,90.61 511.64,91.16 512.74,92.25 513.29,93.35 513.84,94.99 513.84,97.72 513.29,99.36 512.74,100.46 511.64,101.55 510.00,102.10 506.16,102.10"/><polyline points="517.67,90.61 517.67,102.10"/><polyline points="517.67,90.61 525.34,102.10"/><polyline points="525.34,90.61 525.34,102.10"/><polyline points="536.85,92.25 535.76,91.16 534.11,90.61 531.92,90.61 530.28,91.16 529.18,92.25 529.18,93.35 529.73,94.44 530.28,94.99 531.37,95.54 534.66,96.63 535.76,97.18 536.30,97.72 536.85,98.82 536.85,100.46 535.76,101.55 534.11,102.10 531.92,102.10 530.28,101.55 529.18,100.46"/></g><g fill="none" stroke="#000000" stroke-width="1.65" stroke-linecap="round" stroke-linejoin="round"><polyline points="539.44,88.42 540.54,89.52 541.63,91.16 542.73,93.35 543.28,96.08 543.28,98.27 542.73,101.01 541.63,103.19 540.54,104.83 539.44,105.93"/></g><g fill="none" stroke="#ff0000" stroke-width="1.1"><path d="M351.0,123.3L354.7,119.6L358.4,123.3L354.7,127.0Z"/><path d="M368.5,123.3L372.2,119.6L375.9,123.3L372.2,127.0Z"/><path d="M386.2,123.3L389.9,119.6L393.6,123.3L389.9,127.0Z"/></g><g transform="translate(407.00,126.90)" fill="none" stroke="#ff0000" stroke-linecap="round" stroke-linejoin="round"><path d="M0.3,-5.9 C0.8,-7.0 1.6,-8.0 2.5,-8.0 C3.2,-8.0 3.7,-7.8 3.9,-7.4 M4.85,-0.3 C6.2,-0.3 7.8,-2.4 8.6,-4.2 C9.3,-5.6 9.9,-6.8 10.4,-7.8 M10.4,-0.3 C11.2,-0.3 12.0,-1.4 12.5,-2.4" stroke-width="1.0"/><path d="M3.9,-7.4 C3.4,-6.2 2.7,-4.6 2.7,-3.4 C2.7,-2.2 3.3,-0.3 4.85,-0.3 M10.4,-7.8 C10.0,-6.4 9.4,-4.6 9.4,-3.4 C9.4,-2.0 9.6,-0.4 10.4,-0.3" stroke-width="1.65"/></g><path d="M422.1,114.2 l-0.9,1.0" stroke="#ff0000" stroke-width="1.3" stroke-linecap="round" fill="none"/><path transform="translate(420.47,131.50) scale(0.00675,-0.00562)" d="M142 84Q142 56 184 45L176 0H-9Q-25 13 -25 43Q-25 71 6 112Q38 153 112 221L385 475L213 870L106 895L114 940H362L507 582L631 700Q695 761 721 796Q747 831 747 856Q747 866 738 874Q729 881 688 895L696 940H873Q894 924 894 897Q894 838 756 707L542 506L734 66L850 45L842 0H586L419 400L248 236Q193 183 168 148Q142 114 142 84Z" fill="#ff0000" stroke="#ff0000" stroke-width="89"/><path transform="translate(426.84,119.00) scale(0.00792,-0.00508)" d="M724 965Q774 965 803 957L759 711H716L678 838Q598 838 512 777Q427 716 356 616L249 0H83L236 870L118 895L126 940H403L372 728Q447 841 540 903Q632 965 724 965Z" fill="#ff0000" stroke="#ff0000" stroke-width="89"/><path transform="translate(432.73,119.00) scale(0.00902,-0.00508)" d="M873 746Q941 843 1027 904Q1113 965 1192 965Q1276 965 1324 912Q1373 858 1373 757Q1373 735 1368 700Q1364 664 1262 70L1393 45L1384 0H1083L1186 582Q1209 703 1209 748Q1209 793 1188 820Q1167 848 1122 848Q1078 848 1017 806Q956 764 906 698Q857 633 847 576L748 0H582L684 582Q709 713 709 748Q709 793 687 820Q665 848 618 848Q574 848 510 804Q446 759 397 696Q348 632 339 576L240 0H74L227 870L109 895L117 940H395L367 746Q437 845 524 905Q611 965 688 965Q776 965 824 910Q873 854 873 746Z" fill="#ff0000" stroke="#ff0000" stroke-width="89"/><path transform="translate(445.95,119.00) scale(0.00620,-0.00508)" d="M692 276Q692 125 596 52Q500 -20 305 -20Q167 -20 25 42L66 268H111L128 131Q154 103 202 81Q249 59 309 59Q528 59 528 238Q528 297 482 343Q435 389 330 440Q229 489 180 548Q131 608 131 688Q131 820 220 892Q309 965 467 965Q580 965 735 930L698 721H651L637 829Q574 885 471 885Q389 885 340 848Q291 810 291 731Q291 677 333 636Q375 595 492 535Q596 481 644 419Q692 357 692 276Z" fill="#ff0000" stroke="#ff0000" stroke-width="89"/><line x1="452.4" y1="130.3" x2="461.9" y2="113.8" stroke="#ff0000" stroke-width="1.6" stroke-linecap="round"/><g transform="translate(464.00,126.90)" fill="none" stroke="#ff0000" stroke-linecap="round" stroke-linejoin="round"><path d="M0.3,-5.9 C0.8,-7.0 1.6,-8.0 2.5,-8.0 C3.2,-8.0 3.7,-7.8 3.9,-7.4 M4.85,-0.3 C6.2,-0.3 7.8,-2.4 8.6,-4.2 C9.3,-5.6 9.9,-6.8 10.4,-7.8 M10.4,-0.3 C11.2,-0.3 12.0,-1.4 12.5,-2.4" stroke-width="1.0"/><path d="M3.9,-7.4 C3.4,-6.2 2.7,-4.6 2.7,-3.4 C2.7,-2.2 3.3,-0.3 4.85,-0.3 M10.4,-7.8 C10.0,-6.4 9.4,-4.6 9.4,-3.4 C9.4,-2.0 9.6,-0.4 10.4,-0.3" stroke-width="1.65"/></g><path d="M476.3,128.10 c0.5,-0.9 1.2,-1.3 2.0,-1.2 l4.4,0.3 M479.9,127.10 l-1.1,4.8" fill="none" stroke="#ff0000" stroke-width="1.4" stroke-linecap="round" stroke-linejoin="round"/><g fill="none" stroke="#ff0000" stroke-width="1.65" stroke-linecap="round" stroke-linejoin="round"><polyline points="502.03,113.82 500.93,114.92 499.84,116.56 498.74,118.75 498.19,121.48 498.19,123.67 498.74,126.41 499.84,128.59 500.93,130.23 502.03,131.33"/></g><g fill="none" stroke="#ff0000" stroke-width="1.65" stroke-linecap="round" stroke-linejoin="round"><polyline points="506.16,116.01 506.16,127.50"/><polyline points="506.16,127.50 512.74,127.50"/><polyline points="515.48,116.01 515.48,127.50"/><polyline points="515.48,116.01 522.60,116.01"/><polyline points="515.48,121.48 519.86,121.48"/><polyline points="515.48,127.50 522.60,127.50"/><polyline points="533.02,117.65 531.92,116.56 530.28,116.01 528.08,116.01 526.44,116.56 525.34,117.65 525.34,118.75 525.89,119.84 526.44,120.39 527.54,120.94 530.82,122.03 531.92,122.58 532.47,123.12 533.02,124.22 533.02,125.86 531.92,126.95 530.28,127.50 528.08,127.50 526.44,126.95 525.34,125.86"/></g><g fill="none" stroke="#ff0000" stroke-width="1.65" stroke-linecap="round" stroke-linejoin="round"><polyline points="536.00,113.82 537.10,114.92 538.20,116.56 539.29,118.75 539.84,121.48 539.84,123.67 539.29,126.41 538.20,128.59 537.10,130.23 536.00,131.33"/></g><g fill="none" stroke="#0000ff" stroke-width="0.9"><rect x="352.0" y="145.8" width="5.4" height="5.4"/><rect x="369.5" y="145.8" width="5.4" height="5.4"/><rect x="387.2" y="145.8" width="5.4" height="5.4"/></g><g transform="translate(407.00,152.10)" fill="none" stroke="#0000ff" stroke-linecap="round" stroke-linejoin="round"><path d="M0.3,-5.9 C0.8,-7.0 1.6,-8.0 2.5,-8.0 C3.2,-8.0 3.7,-7.8 3.9,-7.4 M4.85,-0.3 C6.2,-0.3 7.8,-2.4 8.6,-4.2 C9.3,-5.6 9.9,-6.8 10.4,-7.8 M10.4,-0.3 C11.2,-0.3 12.0,-1.4 12.5,-2.4" stroke-width="1.0"/><path d="M3.9,-7.4 C3.4,-6.2 2.7,-4.6 2.7,-3.4 C2.7,-2.2 3.3,-0.3 4.85,-0.3 M10.4,-7.8 C10.0,-6.4 9.4,-4.6 9.4,-3.4 C9.4,-2.0 9.6,-0.4 10.4,-0.3" stroke-width="1.65"/></g><path d="M422.1,139.4 l-0.9,1.0" stroke="#0000ff" stroke-width="1.3" stroke-linecap="round" fill="none"/><path transform="translate(421.38,156.70) scale(0.00629,-0.00562)" d="M52 940H308L453 208L688 614Q752 726 752 807Q752 844 731 866Q710 888 686 895L694 940H884Q910 917 910 877Q910 798 827 657L431 -10Q317 -204 250 -285Q184 -366 119 -404Q54 -442 -22 -442Q-103 -442 -171 -424L-134 -221H-89L-73 -317Q-48 -340 9 -340Q144 -340 294 -70L339 12L156 870L44 895Z" fill="#0000ff" stroke="#0000ff" stroke-width="89"/><path transform="translate(426.84,144.20) scale(0.00792,-0.00508)" d="M724 965Q774 965 803 957L759 711H716L678 838Q598 838 512 777Q427 716 356 616L249 0H83L236 870L118 895L126 940H403L372 728Q447 841 540 903Q632 965 724 965Z" fill="#0000ff" stroke="#0000ff" stroke-width="89"/><path transform="translate(432.73,144.20) scale(0.00902,-0.00508)" d="M873 746Q941 843 1027 904Q1113 965 1192 965Q1276 965 1324 912Q1373 858 1373 757Q1373 735 1368 700Q1364 664 1262 70L1393 45L1384 0H1083L1186 582Q1209 703 1209 748Q1209 793 1188 820Q1167 848 1122 848Q1078 848 1017 806Q956 764 906 698Q857 633 847 576L748 0H582L684 582Q709 713 709 748Q709 793 687 820Q665 848 618 848Q574 848 510 804Q446 759 397 696Q348 632 339 576L240 0H74L227 870L109 895L117 940H395L367 746Q437 845 524 905Q611 965 688 965Q776 965 824 910Q873 854 873 746Z" fill="#0000ff" stroke="#0000ff" stroke-width="89"/><path transform="translate(445.95,144.20) scale(0.00620,-0.00508)" d="M692 276Q692 125 596 52Q500 -20 305 -20Q167 -20 25 42L66 268H111L128 131Q154 103 202 81Q249 59 309 59Q528 59 528 238Q528 297 482 343Q435 389 330 440Q229 489 180 548Q131 608 131 688Q131 820 220 892Q309 965 467 965Q580 965 735 930L698 721H651L637 829Q574 885 471 885Q389 885 340 848Q291 810 291 731Q291 677 333 636Q375 595 492 535Q596 481 644 419Q692 357 692 276Z" fill="#0000ff" stroke="#0000ff" stroke-width="89"/><line x1="452.4" y1="155.5" x2="461.9" y2="139.0" stroke="#0000ff" stroke-width="1.6" stroke-linecap="round"/><g transform="translate(464.00,152.10)" fill="none" stroke="#0000ff" stroke-linecap="round" stroke-linejoin="round"><path d="M0.3,-5.9 C0.8,-7.0 1.6,-8.0 2.5,-8.0 C3.2,-8.0 3.7,-7.8 3.9,-7.4 M4.85,-0.3 C6.2,-0.3 7.8,-2.4 8.6,-4.2 C9.3,-5.6 9.9,-6.8 10.4,-7.8 M10.4,-0.3 C11.2,-0.3 12.0,-1.4 12.5,-2.4" stroke-width="1.0"/><path d="M3.9,-7.4 C3.4,-6.2 2.7,-4.6 2.7,-3.4 C2.7,-2.2 3.3,-0.3 4.85,-0.3 M10.4,-7.8 C10.0,-6.4 9.4,-4.6 9.4,-3.4 C9.4,-2.0 9.6,-0.4 10.4,-0.3" stroke-width="1.65"/></g><path d="M476.3,153.30 c0.5,-0.9 1.2,-1.3 2.0,-1.2 l4.4,0.3 M479.9,152.30 l-1.1,4.8" fill="none" stroke="#0000ff" stroke-width="1.4" stroke-linecap="round" stroke-linejoin="round"/><g fill="none" stroke="#0000ff" stroke-width="1.65" stroke-linecap="round" stroke-linejoin="round"><polyline points="502.03,139.02 500.93,140.12 499.84,141.76 498.74,143.95 498.19,146.68 498.19,148.87 498.74,151.61 499.84,153.79 500.93,155.44 502.03,156.53"/></g><g fill="none" stroke="#0000ff" stroke-width="1.65" stroke-linecap="round" stroke-linejoin="round"><polyline points="506.16,141.21 506.16,152.70"/><polyline points="506.16,152.70 512.74,152.70"/><polyline points="515.48,141.21 515.48,152.70"/><polyline points="515.48,141.21 522.60,141.21"/><polyline points="515.48,146.68 519.86,146.68"/><polyline points="515.48,152.70 522.60,152.70"/><polyline points="533.02,142.85 531.92,141.76 530.28,141.21 528.08,141.21 526.44,141.76 525.34,142.85 525.34,143.95 525.89,145.04 526.44,145.59 527.54,146.14 530.82,147.23 531.92,147.78 532.47,148.32 533.02,149.42 533.02,151.06 531.92,152.15 530.28,152.70 528.08,152.70 526.44,152.15 525.34,151.06"/></g><g fill="none" stroke="#0000ff" stroke-width="1.65" stroke-linecap="round" stroke-linejoin="round"><polyline points="536.00,139.02 537.10,140.12 538.20,141.76 539.29,143.95 539.84,146.68 539.84,148.87 539.29,151.61 538.20,153.79 537.10,155.44 536.00,156.53"/></g><g fill="none" stroke="#000" stroke-width="0.75"><circle cx="354.7" cy="173.8" r="3.5"/><circle cx="372.2" cy="173.8" r="3.5"/><circle cx="389.9" cy="173.8" r="3.5"/></g><g transform="translate(407.00,177.40)" fill="none" stroke="#000000" stroke-linecap="round" stroke-linejoin="round"><path d="M0.3,-5.9 C0.8,-7.0 1.6,-8.0 2.5,-8.0 C3.2,-8.0 3.7,-7.8 3.9,-7.4 M4.85,-0.3 C6.2,-0.3 7.8,-2.4 8.6,-4.2 C9.3,-5.6 9.9,-6.8 10.4,-7.8 M10.4,-0.3 C11.2,-0.3 12.0,-1.4 12.5,-2.4" stroke-width="1.0"/><path d="M3.9,-7.4 C3.4,-6.2 2.7,-4.6 2.7,-3.4 C2.7,-2.2 3.3,-0.3 4.85,-0.3 M10.4,-7.8 C10.0,-6.4 9.4,-4.6 9.4,-3.4 C9.4,-2.0 9.6,-0.4 10.4,-0.3" stroke-width="1.65"/></g><path d="M422.1,164.7 l-0.9,1.0" stroke="#000000" stroke-width="1.3" stroke-linecap="round" fill="none"/><path transform="translate(420.86,182.00) scale(0.00681,-0.00562)" d="M-23 0 -14 45 550 860H401Q345 860 292 850Q239 841 215 825L160 690H113L158 940H770L762 891L200 80H397Q453 80 506 92Q559 105 594 127L670 274H717L645 0Z" fill="#000000" stroke="#000000" stroke-width="89"/><path transform="translate(426.84,169.50) scale(0.00792,-0.00508)" d="M724 965Q774 965 803 957L759 711H716L678 838Q598 838 512 777Q427 716 356 616L249 0H83L236 870L118 895L126 940H403L372 728Q447 841 540 903Q632 965 724 965Z" fill="#000000" stroke="#000000" stroke-width="89"/><path transform="translate(432.73,169.50) scale(0.00902,-0.00508)" d="M873 746Q941 843 1027 904Q1113 965 1192 965Q1276 965 1324 912Q1373 858 1373 757Q1373 735 1368 700Q1364 664 1262 70L1393 45L1384 0H1083L1186 582Q1209 703 1209 748Q1209 793 1188 820Q1167 848 1122 848Q1078 848 1017 806Q956 764 906 698Q857 633 847 576L748 0H582L684 582Q709 713 709 748Q709 793 687 820Q665 848 618 848Q574 848 510 804Q446 759 397 696Q348 632 339 576L240 0H74L227 870L109 895L117 940H395L367 746Q437 845 524 905Q611 965 688 965Q776 965 824 910Q873 854 873 746Z" fill="#000000" stroke="#000000" stroke-width="89"/><path transform="translate(445.95,169.50) scale(0.00620,-0.00508)" d="M692 276Q692 125 596 52Q500 -20 305 -20Q167 -20 25 42L66 268H111L128 131Q154 103 202 81Q249 59 309 59Q528 59 528 238Q528 297 482 343Q435 389 330 440Q229 489 180 548Q131 608 131 688Q131 820 220 892Q309 965 467 965Q580 965 735 930L698 721H651L637 829Q574 885 471 885Q389 885 340 848Q291 810 291 731Q291 677 333 636Q375 595 492 535Q596 481 644 419Q692 357 692 276Z" fill="#000000" stroke="#000000" stroke-width="89"/><line x1="452.4" y1="180.8" x2="461.9" y2="164.3" stroke="#000000" stroke-width="1.6" stroke-linecap="round"/><g transform="translate(464.00,177.40)" fill="none" stroke="#000000" stroke-linecap="round" stroke-linejoin="round"><path d="M0.3,-5.9 C0.8,-7.0 1.6,-8.0 2.5,-8.0 C3.2,-8.0 3.7,-7.8 3.9,-7.4 M4.85,-0.3 C6.2,-0.3 7.8,-2.4 8.6,-4.2 C9.3,-5.6 9.9,-6.8 10.4,-7.8 M10.4,-0.3 C11.2,-0.3 12.0,-1.4 12.5,-2.4" stroke-width="1.0"/><path d="M3.9,-7.4 C3.4,-6.2 2.7,-4.6 2.7,-3.4 C2.7,-2.2 3.3,-0.3 4.85,-0.3 M10.4,-7.8 C10.0,-6.4 9.4,-4.6 9.4,-3.4 C9.4,-2.0 9.6,-0.4 10.4,-0.3" stroke-width="1.65"/></g><path d="M476.3,178.60 c0.5,-0.9 1.2,-1.3 2.0,-1.2 l4.4,0.3 M479.9,177.60 l-1.1,4.8" fill="none" stroke="#000000" stroke-width="1.4" stroke-linecap="round" stroke-linejoin="round"/><g fill="none" stroke="#000000" stroke-width="1.65" stroke-linecap="round" stroke-linejoin="round"><polyline points="502.03,164.32 500.93,165.42 499.84,167.06 498.74,169.25 498.19,171.98 498.19,174.17 498.74,176.91 499.84,179.09 500.93,180.74 502.03,181.83"/></g><g fill="none" stroke="#000000" stroke-width="1.65" stroke-linecap="round" stroke-linejoin="round"><polyline points="506.16,166.51 506.16,178.00"/><polyline points="506.16,178.00 512.74,178.00"/><polyline points="515.48,166.51 515.48,178.00"/><polyline points="515.48,166.51 522.60,166.51"/><polyline points="515.48,171.98 519.86,171.98"/><polyline points="515.48,178.00 522.60,178.00"/><polyline points="533.02,168.15 531.92,167.06 530.28,166.51 528.08,166.51 526.44,167.06 525.34,168.15 525.34,169.25 525.89,170.34 526.44,170.89 527.54,171.44 530.82,172.53 531.92,173.08 532.47,173.62 533.02,174.72 533.02,176.36 531.92,177.45 530.28,178.00 528.08,178.00 526.44,177.45 525.34,176.36"/></g><g fill="none" stroke="#000000" stroke-width="1.65" stroke-linecap="round" stroke-linejoin="round"><polyline points="536.00,164.32 537.10,165.42 538.20,167.06 539.29,169.25 539.84,171.98 539.84,174.17 539.29,176.91 538.20,179.09 537.10,180.74 536.00,181.83"/></g></svg></body></html>
